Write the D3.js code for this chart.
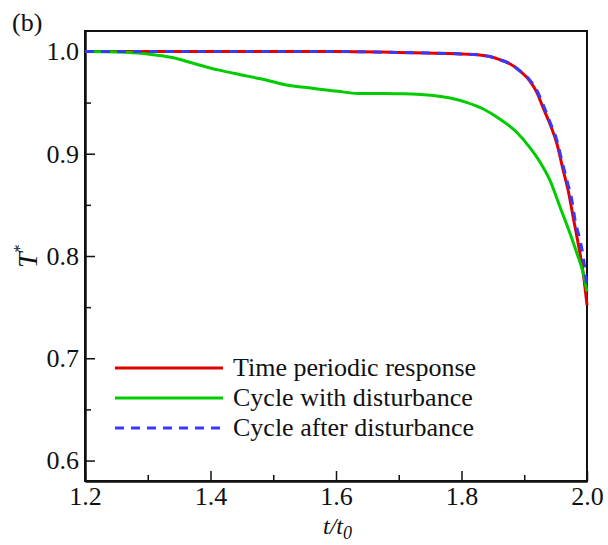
<!DOCTYPE html>
<html>
<head>
<meta charset="utf-8">
<script src="https://cdn.jsdelivr.net/npm/d3@7"></script>
<style>
  body { margin: 0; background: #fff; }
  svg text { font-family: "Liberation Serif", "DejaVu Serif", serif; fill: #111; }
</style>
</head>
<body>
<script>
// series data
const redT = [1.2, 1.3, 1.4, 1.5, 1.6, 1.7, 1.78, 1.82, 1.845, 1.861, 1.877, 1.893, 1.909, 1.92, 1.93, 1.941, 1.952, 1.962, 1.97, 1.978, 1.986, 1.994, 2.0];
const redV = [1.0, 1.0, 1.0, 1.0, 1.0, 0.999, 0.998, 0.997, 0.995, 0.992, 0.988, 0.981, 0.971, 0.960, 0.945, 0.929, 0.910, 0.884, 0.864, 0.838, 0.812, 0.783, 0.752];

const greenT = [1.2, 1.25, 1.3, 1.339, 1.375, 1.412, 1.45, 1.482, 1.519, 1.562, 1.603, 1.635, 1.678, 1.702, 1.755, 1.782, 1.809, 1.834, 1.861, 1.888, 1.909, 1.925, 1.941, 1.957, 1.973, 1.984, 1.994, 2.0];
const greenV = [1.0, 0.9995, 0.9975, 0.994, 0.988, 0.982, 0.977, 0.973, 0.9675, 0.964, 0.961, 0.959, 0.959, 0.9587, 0.957, 0.9545, 0.950, 0.944, 0.934, 0.921, 0.906, 0.892, 0.874, 0.848, 0.822, 0.8025, 0.783, 0.765];

const blueT = [1.2, 1.3, 1.4, 1.5, 1.6, 1.7, 1.78, 1.82, 1.845, 1.861, 1.877, 1.893, 1.909, 1.92, 1.93, 1.941, 1.952, 1.960, 1.968, 1.976, 1.981, 1.989, 1.994, 1.998, 2.0];
const blueV = [1.0, 1.0, 1.0, 1.0, 1.0, 0.999, 0.998, 0.997, 0.995, 0.992, 0.988, 0.981, 0.972, 0.962, 0.948, 0.931, 0.913, 0.893, 0.874, 0.854, 0.835, 0.815, 0.799, 0.780, 0.768];

const seriesNames = ['Time periodic response', 'Cycle with disturbance', 'Cycle after disturbance'];
const xTicks = [1.2, 1.4, 1.6, 1.8, 2.0];
const xMinorTicks = [1.3, 1.5, 1.7, 1.9];
const yTicks = [0.6, 0.7, 0.8, 0.9, 1.0];
const yMinorTicks = [0.65, 0.75, 0.85, 0.95];

const width = 608, height = 545;
const plotLeft = 85, plotRight = 587, plotTop = 31, plotBottom = 481;

const svg = d3.select('body').append('svg')
    .attr('width', width)
    .attr('height', height);

const x = d3.scaleLinear().domain([1.2, 2.0]).range([plotLeft, plotRight]);
const y = d3.scaleLinear().domain([0.58, 1.02]).range([plotBottom, plotTop]);

// frame
svg.append('rect')
    .attr('x', plotLeft).attr('y', plotTop)
    .attr('width', plotRight - plotLeft).attr('height', plotBottom - plotTop)
    .attr('fill', 'none').attr('stroke', '#111').attr('stroke-width', 2);

// axes with inward ticks
const fmt = d3.format('.1f');
const gx = svg.append('g')
    .attr('transform', `translate(0, ${plotBottom})`)
    .call(d3.axisBottom(x).tickValues(xTicks).tickFormat(fmt).tickSizeInner(-10).tickSizeOuter(0));
gx.selectAll('text').attr('y', 24).attr('dy', 0).style('font-size', '26px');

svg.append('g')
    .attr('transform', `translate(0, ${plotBottom})`)
    .call(d3.axisBottom(x).tickValues(xMinorTicks).tickFormat('').tickSizeInner(-6).tickSizeOuter(0));

const gy = svg.append('g')
    .attr('transform', `translate(${plotLeft}, 0)`)
    .call(d3.axisLeft(y).tickValues(yTicks).tickFormat(fmt).tickSizeInner(-10).tickSizeOuter(0).tickPadding(6));
gy.selectAll('text').style('font-size', '26px');

svg.append('g')
    .attr('transform', `translate(${plotLeft}, 0)`)
    .call(d3.axisLeft(y).tickValues(yMinorTicks).tickFormat('').tickSizeInner(-6).tickSizeOuter(0));

svg.selectAll('.domain').attr('stroke', '#111').attr('stroke-width', 2);
svg.selectAll('.tick line').attr('stroke', '#111').attr('stroke-width', 1.5);

// curves
const line = d3.line()
    .x(d => x(d[0]))
    .y(d => y(d[1]))
    .curve(d3.curveMonotoneX);

const series = [
    {name: seriesNames[0], pts: d3.zip(redT, redV), color: '#e00000', dash: null},
    {name: seriesNames[1], pts: d3.zip(greenT, greenV), color: '#00cc00', dash: null},
    {name: seriesNames[2], pts: d3.zip(blueT, blueV), color: '#3838ff', dash: '9,7'}
];

svg.selectAll('path.curve')
    .data(series)
    .enter()
    .append('path')
        .attr('class', 'curve')
        .attr('d', d => line(d.pts))
        .attr('fill', 'none')
        .attr('stroke', d => d.color)
        .attr('stroke-width', 3)
        .attr('stroke-dasharray', d => d.dash);

// legend
const legend = svg.append('g');
series.forEach((s, i) => {
    const ly = 368 + i * 30;
    legend.append('line')
        .attr('x1', 115).attr('x2', 223)
        .attr('y1', ly).attr('y2', ly)
        .attr('stroke', s.color)
        .attr('stroke-width', 3)
        .attr('stroke-dasharray', s.dash);
    legend.append('text')
        .attr('x', 233).attr('y', ly + 8)
        .style('font-size', '26px')
        .text(s.name);
});

// labels
svg.append('text')
    .attr('x', 12).attr('y', 31)
    .style('font-size', '26px')
    .text('(b)');

const xl = svg.append('text')
    .attr('x', (plotLeft + plotRight) / 2 - 13).attr('y', 534)
    .style('font-size', '24px')
    .style('font-style', 'italic');
xl.append('tspan').text('t/t');
xl.append('tspan').attr('dy', 5).style('font-size', '18px').text('0');

const yl = svg.append('text')
    .attr('transform', 'translate(37, 268) rotate(-90)')
    .style('font-size', '28px')
    .style('font-style', 'italic');
yl.append('tspan').text('T');
yl.append('tspan').attr('dy', -12).style('font-size', '16px').style('font-style', 'normal').text('*');
</script>
</body>
</html>
